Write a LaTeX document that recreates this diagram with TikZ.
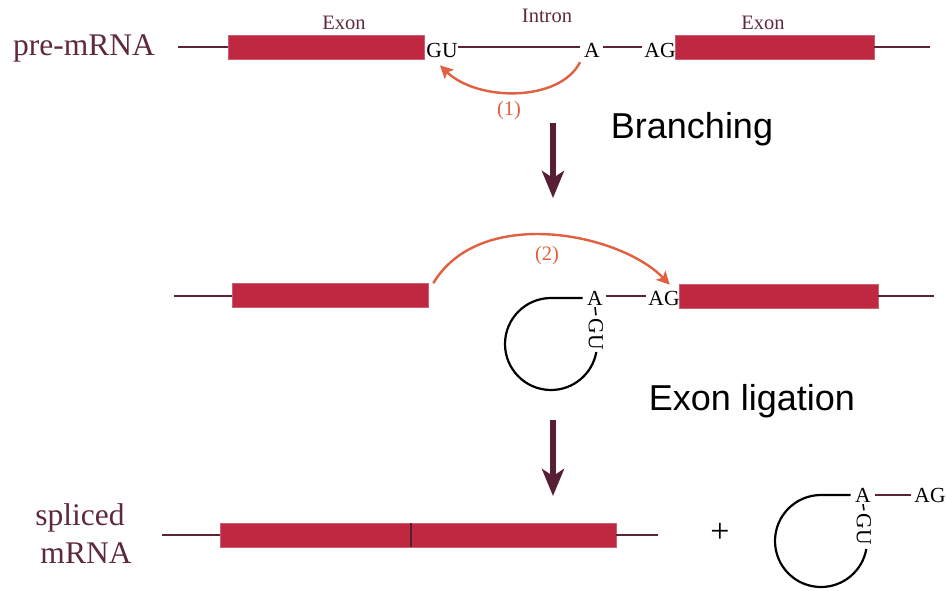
\documentclass[tikz,border=0pt]{standalone}
\usepackage{fontspec}
\setmainfont{Liberation Serif}
\newfontfamily\arialf{Liberation Sans}
\usetikzlibrary{arrows.meta,calc}
\definecolor{exonred}{HTML}{BE2941}
\definecolor{maroon}{HTML}{5B2336}
\definecolor{txtmaroon}{HTML}{5E2A3A}
\definecolor{orng}{HTML}{E0603F}
\definecolor{arrmaroon}{HTML}{561F33}
\tikzset{
  exon/.style={fill=exonred, draw=exonred!75!white, line width=0.6pt, minimum height=24pt, inner sep=0pt},
  rna/.style={draw=maroon, line width=2.6pt},
  nt/.style={font=\fontsize{21.5}{24}\selectfont, inner sep=0pt, anchor=base, text=black},
  lbl/.style={font=\fontsize{20.5}{24}\selectfont, inner sep=0pt, anchor=base, text=txtmaroon},
  big/.style={font=\fontsize{31.5}{34}\selectfont, inner sep=0pt, anchor=base, text=txtmaroon},
  stepname/.style={font=\arialf\fontsize{36}{40}\selectfont, inner sep=0pt, anchor=base, text=black},
  num/.style={font=\fontsize{20.5}{24}\selectfont, inner sep=0pt, anchor=base, text=orng},
  react/.style={draw=orng, line width=2.4pt, -{Stealth[length=13pt,width=13pt,inset=3pt]}},
  looprna/.style={draw=black, line width=2.2pt},
  tick/.style={draw=black, line width=1.6pt},
  bigarrow/.style={draw=arrmaroon, line width=6pt, -{Stealth[length=27pt,width=22pt,inset=7pt]}},
}
\begin{document}
\begin{tikzpicture}[x=1pt,y=-1pt]
\useasboundingbox (0,0) rectangle (946,590);

% ---------- Row 1: pre-mRNA ----------
\node[big] (pre) at (84,55) {pre-mRNA};
\coordinate (L1a) at (178,47);
\coordinate (L1b) at (930,47);
\node[exon, minimum width=196pt] (E1a) at (326,47) {};
\node[exon, minimum width=199pt] (E1b) at (774.5,47) {};
\node[lbl] (ex1) at (344,29) {Exon};
\node[lbl] (ex2) at (763,29) {Exon};
\node[lbl] (intr) at (547,22) {Intron};
\node[nt] (GU1) at (442,57) {GU};
\node[nt] (A1) at (592,57) {A};
\node[nt] (AG1) at (660,57) {AG};
\draw[rna] (L1a) -- (E1a.west |- L1a);
\draw[rna] (GU1.east |- L1a) -- ([xshift=-4pt]A1.west |- L1a);
\draw[rna] ([xshift=3pt]A1.east |- L1a) -- ([xshift=-2pt]AG1.west |- L1a);
\draw[rna] (E1b.east |- L1b) -- (L1b);
\draw[react] ([xshift=-12pt,yshift=-5pt]A1.south) .. controls (560,102) and (478,102) .. ([xshift=-2pt,yshift=-8pt]GU1.south);
\node[num] (n1) at (509,115) {(1)};

\node[stepname] (branch) at (692,138) {Branching};
\coordinate (Ar1a) at (553,123);
\coordinate (Ar1b) at (553,198);
\draw[bigarrow] (Ar1a) -- (Ar1b);

% ---------- Row 2 ----------
\coordinate (L2a) at (174,296);
\coordinate (L2b) at (934,296);
\node[exon, minimum width=196pt] (E2a) at (330,295.5) {};
\node[exon, minimum width=199pt] (E2b) at (778.5,296) {};
\node[nt] (A2) at (595,305) {A};
\node[nt] (AG2) at (664,305) {AG};
\node[nt, rotate=-90, anchor=center] (GU2) at (596,334) {GU};
\draw[rna] (L2a) -- (E2a.west |- L2a);
\draw[rna] (E2b.east |- L2b) -- (L2b);
\draw[rna] ([xshift=3pt]A2.east |- L2a) -- ([xshift=-2pt]AG2.west |- L2a);
\coordinate (T2) at (551,298);
\draw[looprna] ([xshift=-4.5pt]A2.west |- T2) -- (T2) arc[start angle=90, end angle=350, radius=46pt];
\draw[tick] ([yshift=-2pt]A2.south) -- ([yshift=3pt]GU2.west);
\draw[react] ([xshift=5pt]E2a.north east) .. controls (480,205) and (620,233) .. ([xshift=-9pt,yshift=-1pt]E2b.north west);
\node[num] (n2) at (547,260) {(2)};

\node[stepname] (ligate) at (752,410) {Exon ligation};
\coordinate (Ar2a) at (553,420);
\coordinate (Ar2b) at (553,496);
\draw[bigarrow] (Ar2a) -- (Ar2b);

% ---------- Row 3 ----------
\node[big] (sp1) at (80,525) {spliced};
\node[big] (sp2) at (86,563) {mRNA};
\coordinate (L3a) at (162,535);
\coordinate (L3b) at (658,535);
\node[exon, minimum width=396pt] (E3) at (418,535) {};
\draw[rna] (L3a) -- (E3.west |- L3a);
\draw[rna] (E3.east |- L3b) -- (L3b);
\draw[draw=arrmaroon, line width=2.4pt] (411,523) -- (411,547);

\node[font=\fontsize{34}{38}\selectfont, inner sep=0pt] (plus) at (720,533) {+};

\node[nt] (A3) at (863,502) {A};
\node[nt] (AG3) at (930,502) {AG};
\node[nt, rotate=-90, anchor=center] (GU3) at (864,529) {GU};
\coordinate (T3) at (821,495);
\draw[rna] ([xshift=4pt]A3.east |- T3) -- ([xshift=-3pt]AG3.west |- T3);
\draw[looprna] ([xshift=-4.5pt]A3.west |- T3) -- (T3) arc[start angle=90, end angle=350, radius=46pt];
\draw[tick] ([yshift=-2pt]A3.south) -- ([yshift=3pt]GU3.west);
\end{tikzpicture}
\end{document}
